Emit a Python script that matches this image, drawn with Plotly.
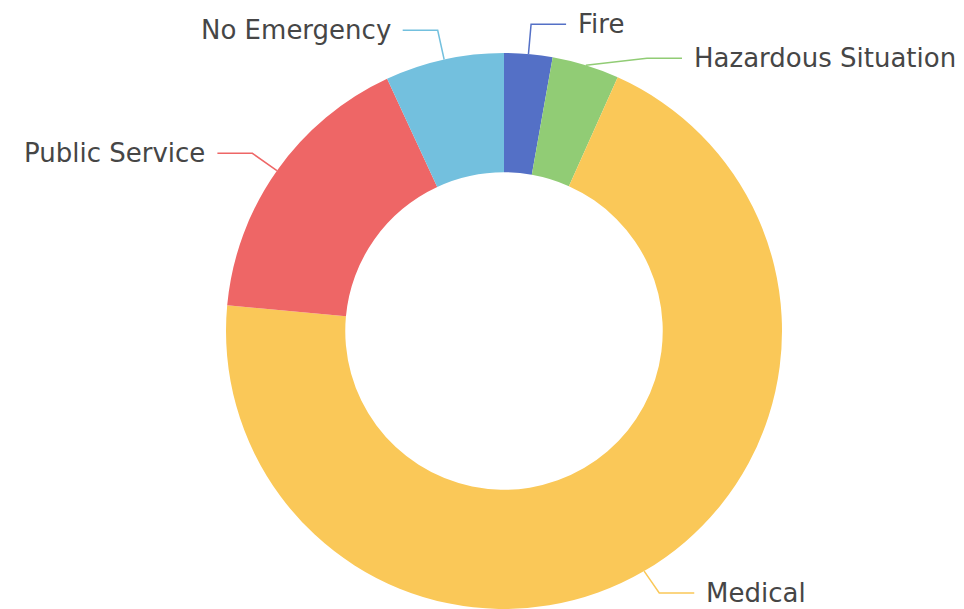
import math
import plotly.graph_objects as go

# ---- data ----
labels = ["Fire", "Hazardous Situation", "Medical", "Public Service", "No Emergency"]
values = [2.8, 3.9, 69.7, 16.6, 6.9]
colors = ["#5470c6", "#91cc75", "#fac858", "#ee6666", "#73c0de"]

# ---- layout geometry (pixels) ----
W, H = 964, 609
CX, CY, R = 504, 331, 278
HOLE = 0.571
LEN1, LEN2, GAP, MIN_SEP = 30, 35, 10, 34
FONT_SIZE = 26

def px(x):
    return x / W

def py(y):
    return 1 - y / H

fig = go.Figure(go.Pie(
    labels=labels, values=values, sort=False, direction="clockwise", rotation=0,
    hole=HOLE, marker=dict(colors=colors, line=dict(width=0)),
    textinfo="none", hoverinfo="label+percent",
    domain=dict(x=[px(CX - R), px(CX + R)], y=[py(CY + R), py(CY - R)]),
))

# compute label anchor positions from the data (ECharts-like outside labels)
total = sum(values)
cum = 0
items = []
for lab, v, c in zip(labels, values, colors):
    mid = (cum + v / 2) / total * 2 * math.pi
    cum += v
    sx, sy = CX + R * math.sin(mid), CY - R * math.cos(mid)
    R1 = R + LEN1
    kx, ky = CX + R1 * math.sin(mid), CY - R1 * math.cos(mid)
    side = 1 if math.sin(mid) >= 0 else -1
    items.append(dict(lab=lab, c=c, sx=sx, sy=sy, kx=kx, ky=ky, side=side))

R1 = R + LEN1
for side in (1, -1):
    group = sorted([it for it in items if it["side"] == side], key=lambda d: d["ky"])
    for i in range(1, len(group)):
        prev, cur = group[i - 1], group[i]
        if cur["ky"] < prev["ky"] + MIN_SEP:
            cur["ky"] = prev["ky"] + MIN_SEP
            dy = cur["ky"] - CY
            if abs(dy) < R1:
                cur["kx"] = CX + side * math.sqrt(R1 ** 2 - dy ** 2)

# keep label texts inside the canvas
y_limit = H - FONT_SIZE * 0.62
for it in items:
    if it["ky"] > y_limit:
        it["ky"] = y_limit

shapes, annotations = [], []
for it in items:
    ex = it["kx"] + it["side"] * LEN2
    path = "M {},{} L {},{} L {},{}".format(
        px(it["sx"]), py(it["sy"]), px(it["kx"]), py(it["ky"]), px(ex), py(it["ky"]))
    shapes.append(dict(type="path", xref="paper", yref="paper", path=path,
                       line=dict(color=it["c"], width=1.5)))
    annotations.append(dict(
        x=px(ex + it["side"] * GAP), y=py(it["ky"]), xref="paper", yref="paper",
        text=it["lab"], showarrow=False,
        xanchor="left" if it["side"] > 0 else "right", yanchor="middle",
        font=dict(size=FONT_SIZE, color="#464646", family="DejaVu Sans, sans-serif"),
    ))

fig.update_layout(
    width=W, height=H, margin=dict(l=0, r=0, t=0, b=0),
    paper_bgcolor="white", plot_bgcolor="white", showlegend=False,
    shapes=shapes, annotations=annotations,
)

fig.write_html("out.html", config={"displayModeBar": False},
               post_script="document.body.style.margin='0px';document.body.style.overflow='hidden';")
